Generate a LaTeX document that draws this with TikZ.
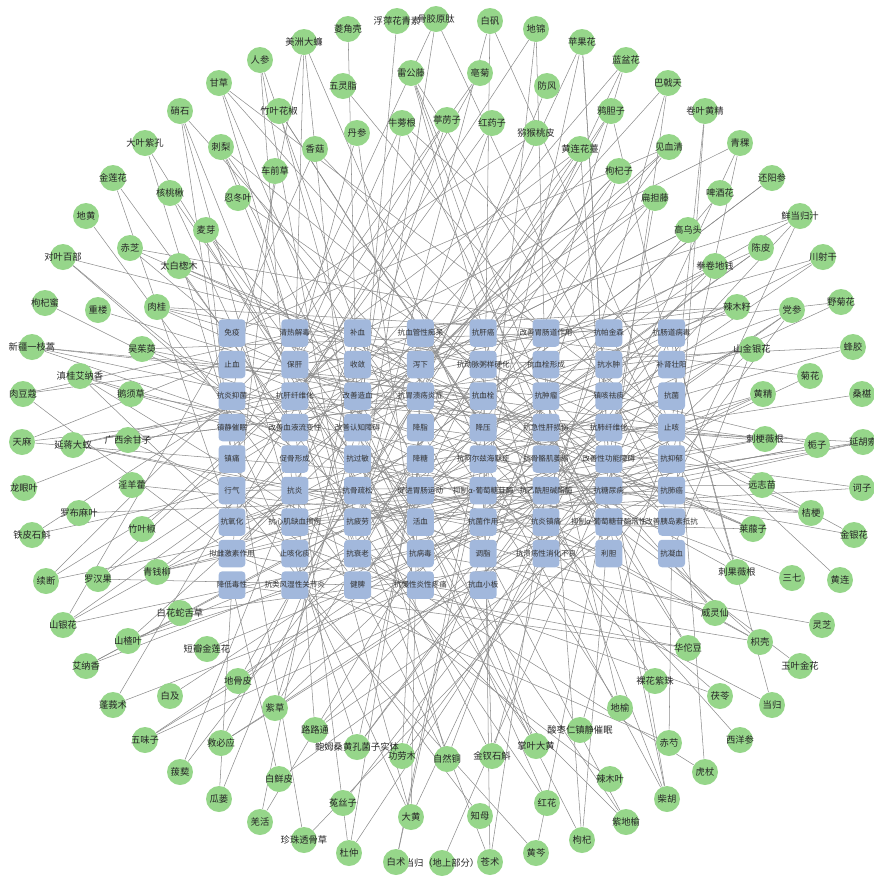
\documentclass[tikz,border=0pt]{standalone}
\usepackage{fontspec}
\newfontfamily\cjk{Noto Sans CJK SC}
\usetikzlibrary{shapes,backgrounds}
\definecolor{herbgreen}{RGB}{150,214,138}
\definecolor{effectblue}{RGB}{162,184,220}
\definecolor{linkgray}{RGB}{140,140,140}

\begin{document}
\begin{tikzpicture}[x=0.02cm, y=-0.02cm]
    % Stili
    \tikzstyle{effect}=[rectangle, rounded corners=2.2pt, minimum width=0.54cm, minimum height=0.55cm, inner sep=0pt, fill=effectblue]
    \tikzstyle{herb}=[circle, minimum size=0.52cm, inner sep=0pt, fill=herbgreen]
    \tikzstyle{effecttext}=[font=\cjk\fontsize{4.3}{5}\selectfont, text=black!80, inner sep=0pt]
    \tikzstyle{herbtext}=[font=\cjk\fontsize{5.3}{6}\selectfont, text=black!85, inner sep=0pt]
    \tikzstyle{link}=[draw=linkgray, line width=0.3pt]

    \useasboundingbox (0,0) rectangle (874,877);

    % Effetti (griglia centrale)
    \foreach \i/\c/\r/\t in {1/1/1/免疫, 2/1/2/止血, 3/1/3/抗炎抑菌, 4/1/4/镇静催眠, 5/1/5/镇痛, 6/1/6/行气, 7/1/7/抗氧化, 8/1/8/拟雌激素作用, 9/1/9/降低毒性,
        10/2/1/清热解毒, 11/2/2/保肝, 12/2/3/抗肝纤维化, 13/2/4/改善血液流变性, 14/2/5/促骨形成, 15/2/6/抗炎, 16/2/7/抗心肌缺血损伤, 17/2/8/止咳化痰, 18/2/9/抗类风湿性关节炎,
        19/3/1/补血, 20/3/2/收敛, 21/3/3/改善造血, 22/3/4/改善认知障碍, 23/3/5/抗过敏, 24/3/6/抗骨疏松, 25/3/7/抗疲劳, 26/3/8/抗衰老, 27/3/9/健脾,
        28/4/1/抗血管性痴呆, 29/4/2/泻下, 30/4/3/抗胃溃疡炎症, 31/4/4/降脂, 32/4/5/降糖, 33/4/6/促进胃肠运动, 34/4/7/活血, 35/4/8/抗病毒, 36/4/9/抗慢性炎性疼痛,
        37/5/1/抗肝癌, 38/5/2/抗动脉粥样硬化, 39/5/3/抗血栓, 40/5/4/降压, 41/5/5/抗阿尔兹海默症, 42/5/6/抑制α-葡萄糖苷酶, 43/5/7/抗菌作用, 44/5/8/调脂, 45/5/9/抗血小板,
        46/6/1/改善胃肠道作用, 47/6/2/抗血栓形成, 48/6/3/抗肿瘤, 49/6/4/抗急性肝损伤, 50/6/5/抗骨骼肌萎缩, 51/6/6/抗乙酰胆碱酯酶, 52/6/7/抗炎镇痛, 53/6/8/抗溃疡性消化不良,
        54/7/1/抗帕金森, 55/7/2/抗水肿, 56/7/3/镇咳祛痰, 57/7/4/抗肺纤维化, 58/7/5/改善性功能障碍, 59/7/6/抗糖尿病, 60/7/7/抑制α-葡萄糖苷酶活性, 61/7/8/利胆,
        62/8/1/抗肠道病毒, 63/8/2/补肾壮阳, 64/8/3/抗菌, 65/8/4/止咳, 66/8/5/抗抑郁, 67/8/6/抗肺癌, 68/8/7/改善胰岛素抵抗, 69/8/8/抗凝血}
        \node[effect, label={[effecttext]center:\t}] (b\i) at ({232+62.8*(\c-1)},{333+31.5*(\r-1)}) {};

    % Erbe (anello esterno)
    \foreach \i/\x/\y/\t in {1/397/21/浮萍花青素, 2/348/29/菱角壳, 3/304/42/美洲大蠊, 4/260/60/人参, 5/219/83/甘草, 6/180/111/硝石, 7/279/111/竹叶花椒, 8/343/86/五灵脂, 9/411/73/雷公藤, 10/402/123/牛蒡根,
        11/357/133/丹参, 12/315/149/香菇, 13/221/147/刺梨, 14/145/143/大叶紫孔, 15/275/171/车前草, 16/113/178/金莲花, 17/170/193/核桃楸, 18/238/198/忍冬叶, 19/86/216/地黄, 20/206/230/麦芽,
        21/436/19/骨胶原肽, 22/490/21/白矾, 23/536/29/地锦, 24/582/42/苹果花, 25/626/60/蓝盆花, 26/668/83/巴戟天, 27/480/73/亳菊, 28/547/86/防风, 29/611/111/鸦胆子, 30/705/111/卷叶黄精,
        31/447/120/葶苈子, 32/492/123/红药子, 33/536/133/猕猴桃皮, 34/580/149/黄连花薹, 35/669/147/见血清, 36/740/143/青稞, 37/619/171/枸杞子, 38/772/178/还阳参, 39/655/198/扁担藤, 40/720/193/啤酒花,
        41/800/216/鲜当归汁, 42/688/230/高乌头, 43/761/248/陈皮, 44/823/257/川射干, 45/715/266/拳卷地钱, 46/737/307/辣木籽, 47/792/310/党参, 48/841/302/野菊花, 49/752/349/山金银花, 50/853/347/蜂胶,
        51/810/376/菊花, 52/763/394/黄精, 53/862/394/桑椹, 54/765/439/刺梗薇根, 55/817/445/栀子, 56/863/442/延胡索, 57/762/485/远志苗, 58/862/488/诃子, 59/811/513/桔梗, 60/753/529/莱菔子,
        61/854/535/金银花, 62/737/572/刺果薇根, 63/792/578/三七, 64/840/580/黄连, 65/715/613/威灵仙, 66/822/625/灵芝, 67/760/642/枳壳, 68/688/648/华佗豆, 69/800/666/玉叶金花, 70/655/681/裸花紫珠,
        71/720/696/茯苓, 72/772/705/当归, 73/620/708/地榆, 74/740/740/西洋参, 75/580/730/酸枣仁镇静催眠, 76/669/743/赤芍, 77/536/746/掌叶大黄, 78/492/756/金钗石斛, 79/447/759/自然铜, 80/705/772/虎杖,
        81/610/779/辣木叶, 82/667/799/柴胡, 83/547/803/红花, 84/480/816/知母, 85/626/822/紫地榆, 86/582/840/枸杞, 87/536/853/黄芩, 88/490/862/苍术, 89/442/863/当归（地上部分）, 90/396/862/白术,
        91/349/853/杜仲, 92/304/840/珍珠透骨草, 93/260/822/羌活, 94/411/817/大黄, 95/343/803/菟丝子, 96/219/799/瓜蒌, 97/279/779/白鲜皮, 98/180/772/菝葜, 99/402/756/功劳木, 100/357/747/鲍姆桑黄孔菌子实体,
        101/315/730/路路通, 102/221/743/救必应, 103/145/740/五味子, 104/275/708/紫草, 105/170/696/白及, 106/113/705/蓬莪术, 107/238/681/地骨皮, 108/207/649/短瓣金莲花, 109/86/666/艾纳香, 110/128/641/山楂叶,
        111/63/625/山银花, 112/180/613/白花蛇舌草, 113/46/581/续断, 114/98/579/罗汉果, 115/157/572/青钱柳, 116/32/535/铁皮石斛, 117/142/529/竹叶椒, 118/79/513/罗布麻叶, 119/24/488/龙眼叶, 120/132/485/淫羊藿,
        121/22/442/天麻, 122/73/445/延蒋大蚁, 123/128/440/广西余甘子, 124/23/394/肉豆蔻, 125/131/394/鹅须草, 126/80/376/滇桂艾纳香, 127/32/347/新疆一枝蒿, 128/142/349/吴茱萸, 129/45/303/枸杞蜜, 130/98/310/重楼,
        131/157/307/肉桂, 132/63/257/对叶百部, 133/130/248/赤芝, 134/179/266/太白楤木}
        \node[herb, label={[herbtext]center:\t}] (g\i) at (\x,\y) {};

    % Collegamenti
    \pgfmathsetseed{2024}
    \begin{scope}[on background layer]
        \foreach \i in {1,...,134} {
            \pgfmathtruncatemacro\k{random(1,4)}
            \foreach \m in {1,...,\k} {
                \pgfmathtruncatemacro\j{random(1,69)}
                \draw[link] (g\i) -- (b\j);
            }
        }
    \end{scope}
\end{tikzpicture}
\end{document}
